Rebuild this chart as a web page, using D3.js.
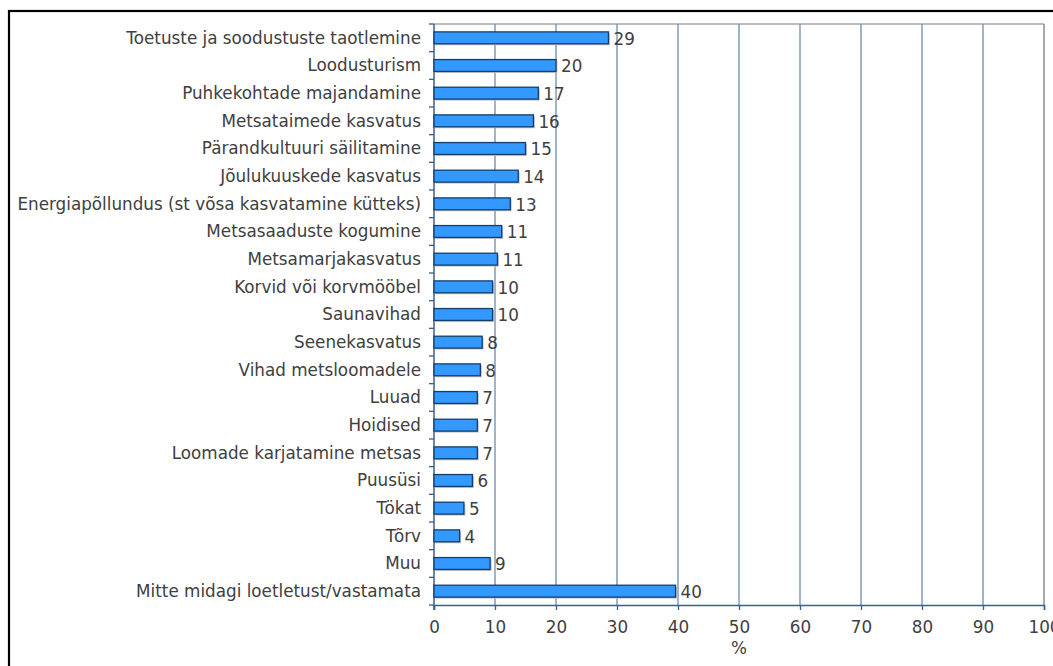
<!DOCTYPE html>
<html>
<head>
<meta charset="utf-8">
<script src="https://cdn.jsdelivr.net/npm/d3@7"></script>
<style>
  html, body { margin: 0; padding: 0; background: #fff; }
  svg { display: block; }
  text { font-family: "DejaVu Sans", Verdana, sans-serif; }
</style>
</head>
<body>
<svg id="chart" width="1053" height="666"></svg>
<script>
const categories = [
  "Toetuste ja soodustuste taotlemine",
  "Loodusturism",
  "Puhkekohtade majandamine",
  "Metsataimede kasvatus",
  "Pärandkultuuri säilitamine",
  "Jõulukuuskede kasvatus",
  "Energiapõllundus (st võsa kasvatamine kütteks)",
  "Metsasaaduste kogumine",
  "Metsamarjakasvatus",
  "Korvid või korvmööbel",
  "Saunavihad",
  "Seenekasvatus",
  "Vihad metsloomadele",
  "Luuad",
  "Hoidised",
  "Loomade karjatamine metsas",
  "Puusüsi",
  "Tökat",
  "Tõrv",
  "Muu",
  "Mitte midagi loetletust/vastamata"
];
const values = [28.6, 20.0, 17.1, 16.3, 15.0, 13.8, 12.5, 11.1, 10.4, 9.6, 9.6, 7.9, 7.6, 7.1, 7.1, 7.1, 6.3, 4.9, 4.2, 9.2, 39.6];
const valueLabels = ["29", "20", "17", "16", "15", "14", "13", "11", "11", "10", "10", "8", "8", "7", "7", "7", "6", "5", "4", "9", "40"];
const xTicks = [0, 10, 20, 30, 40, 50, 60, 70, 80, 90, 100];
const xTitle = "%";

const svg = d3.select("#chart");
const mLeft = 434, mRight = 1044, mTop = 24, mBottom = 605;
const fs = "16.8px";
const txt = "#404040";

// outer frame
svg.append("rect").attr("x", 9).attr("y", 11).attr("width", 1060).attr("height", 670)
  .attr("fill", "none").attr("stroke", "#000").attr("stroke-width", 2.2);

const x = d3.scaleLinear().domain([0, 100]).range([mLeft, mRight]);
const y = d3.scaleBand().domain(categories).range([mTop, mBottom]).paddingInner(0.57).paddingOuter(0.285);

// plot border (top/right gray)
svg.append("line").attr("x1", mLeft).attr("x2", mRight).attr("y1", mTop).attr("y2", mTop)
  .attr("stroke", "#a6a6a6").attr("stroke-width", 1.5);
svg.append("line").attr("x1", mRight).attr("x2", mRight).attr("y1", mTop).attr("y2", mBottom)
  .attr("stroke", "#8c8c8c").attr("stroke-width", 1.5);

// gridlines
svg.append("g").selectAll("line").data(xTicks.filter(d => d > 0 && d < 100)).join("line")
  .attr("x1", d => x(d)).attr("x2", d => x(d)).attr("y1", mTop).attr("y2", mBottom)
  .attr("stroke", "#6d8db0").attr("stroke-width", 1.3);

// bottom axis
const xAxis = d3.axisBottom(x).tickValues(xTicks).tickSize(5).tickPadding(11).tickFormat(d => d);
const gx = svg.append("g").attr("transform", `translate(0,${mBottom})`).call(xAxis);
gx.select(".domain").attr("stroke", "#3a5f8f").attr("stroke-width", 1.5);
gx.selectAll(".tick line").attr("stroke", "#3a5f8f").attr("stroke-width", 1.3);
gx.selectAll(".tick text").attr("fill", txt).style("font-size", fs).style("font-family", "DejaVu Sans, Verdana, sans-serif");

svg.append("text").attr("x", x(50)).attr("y", 654).attr("text-anchor", "middle")
  .attr("fill", txt).style("font-size", fs).text(xTitle);

// left axis with ticks at category boundaries
const step = (mBottom - mTop) / categories.length;
const boundaries = d3.range(categories.length + 1).map(i => mTop + i * step);
svg.append("g").selectAll("line").data(boundaries).join("line")
  .attr("x1", mLeft - 5).attr("x2", mLeft).attr("y1", d => d).attr("y2", d => d)
  .attr("stroke", "#3a5f8f").attr("stroke-width", 1.3);
svg.append("line").attr("x1", mLeft).attr("x2", mLeft).attr("y1", mTop).attr("y2", mBottom + 5)
  .attr("stroke", "#3a5f8f").attr("stroke-width", 1.5);

// category labels
svg.append("g").selectAll("text").data(categories).join("text")
  .attr("x", mLeft - 13).attr("y", d => y(d) + y.bandwidth() / 2)
  .attr("dy", "0.35em").attr("text-anchor", "end")
  .attr("fill", txt).style("font-size", fs).text(d => d);

// bars shadow
svg.append("g").selectAll("rect").data(values).join("rect")
  .attr("x", x(0) + 1.5).attr("y", (d, i) => y(categories[i]) + 1.5)
  .attr("width", d => x(d) - x(0)).attr("height", y.bandwidth())
  .attr("fill", "#c4c4c4");
// bars
svg.append("g").selectAll("rect").data(values).join("rect")
  .attr("x", x(0)).attr("y", (d, i) => y(categories[i]))
  .attr("width", d => x(d) - x(0)).attr("height", y.bandwidth())
  .attr("fill", "#3399ff").attr("stroke", "#133e6e").attr("stroke-width", 1.3);

// value labels
svg.append("g").selectAll("text").data(values).join("text")
  .attr("x", d => x(d) + 5).attr("y", (d, i) => y(categories[i]) + y.bandwidth() / 2)
  .attr("dy", "0.4em").attr("fill", txt).style("font-size", fs)
  .text((d, i) => valueLabels[i]);
</script>
</body>
</html>
